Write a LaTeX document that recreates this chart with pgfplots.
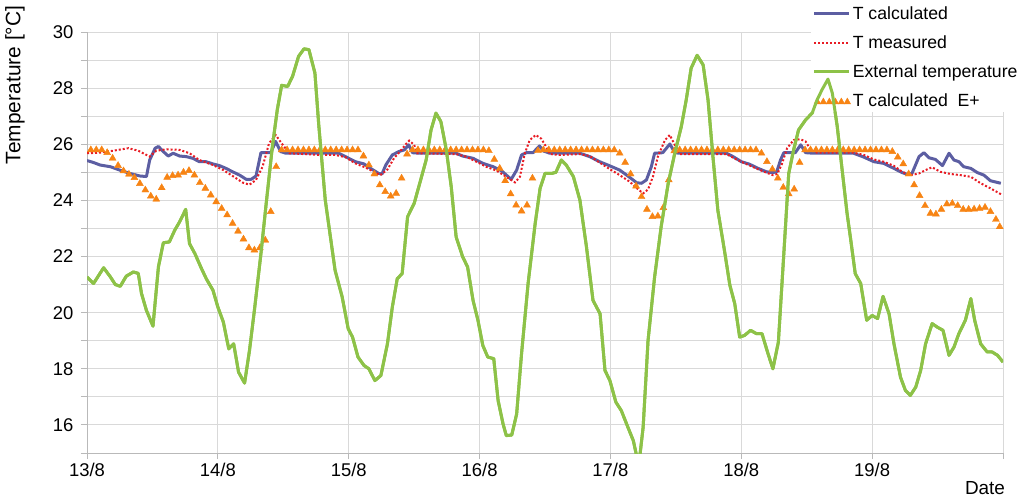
\documentclass[border=0pt]{standalone}
\usepackage{fontspec}
\setmainfont{Liberation Sans}
\usepackage{pgfplots}
\usepackage{pgfplotstable}
\pgfplotsset{compat=1.18}
\definecolor{tcalc}{RGB}{92,94,162}
\definecolor{tmeas}{RGB}{232,28,36}
\definecolor{extgreen}{RGB}{141,194,72}
\definecolor{eplus}{RGB}{247,132,20}
\definecolor{gridgray}{RGB}{217,217,217}
\definecolor{axisgray}{RGB}{185,185,185}

% hours from 13/8 00:00, temperature in degC
\pgfplotstableread{
h T
0 21.27
1.2 21.04
3.05 21.6
4.3 21.27
5.2 21.0
6.1 20.94
7.2 21.3
8.5 21.45
9.4 21.4
10.0 20.68
10.9 20.08
12.1 19.52
13.1 21.63
14.0 22.49
15.1 22.52
16.1 22.94
17.0 23.24
18.1 23.68
18.8 22.46
19.8 22.1
21.0 21.57
21.9 21.2
23.1 20.8
24.0 20.2
25.0 19.67
26.0 18.71
26.9 18.89
27.8 17.88
28.9 17.49
29.8 18.65
30.7 20.08
31.9 22.1
32.8 23.77
34.0 25.92
34.9 27.23
35.7 28.1
36.8 28.06
37.7 28.42
38.8 29.13
39.8 29.4
40.7 29.37
41.8 28.54
42.5 26.7
43.7 24.01
45.5 21.51
46.8 20.56
47.9 19.43
48.7 19.13
49.7 18.42
50.8 18.12
51.7 18.0
52.8 17.58
53.9 17.76
55.1 18.89
56.0 20.2
56.9 21.21
57.8 21.39
58.8 23.42
60.0 23.89
61.2 24.73
62.2 25.44
63.1 26.51
64.0 27.11
64.9 26.81
65.9 25.8
66.8 24.49
67.7 22.7
68.9 21.99
69.8 21.63
70.8 20.44
71.7 19.73
72.6 18.83
73.5 18.42
74.6 18.36
75.4 16.87
76.3 16.04
76.9 15.62
77.9 15.64
78.8 16.39
79.7 18.54
80.9 21.04
82.2 23.18
83.1 24.43
84.0 24.96
85.2 24.96
86.0 25.0
87.0 25.44
87.9 25.26
89.2 24.85
90.4 24.01
91.6 22.35
92.8 20.44
94.1 19.96
95.0 17.94
95.9 17.58
97.0 16.81
98.0 16.51
99.2 15.92
100.2 15.44
100.8 14.9
101.4 14.9
102.0 15.92
102.9 19.01
104.1 21.27
105.3 23.06
106.6 24.61
107.8 25.68
109.0 26.63
109.9 27.58
110.8 28.71
111.9 29.17
113.0 28.83
113.9 27.58
114.8 25.56
115.7 23.65
116.9 22.23
117.9 20.98
118.8 20.32
119.7 19.13
120.6 19.19
121.7 19.37
122.8 19.25
123.8 19.25
124.9 18.54
125.8 18.0
126.8 18.95
127.8 22.1
128.7 24.96
129.6 25.8
130.5 26.51
131.8 26.87
133.0 27.11
133.9 27.58
134.8 27.94
135.9 28.32
136.7 27.82
137.6 26.63
138.5 25.08
139.4 23.54
140.0 22.7
140.9 21.39
141.9 21.04
143.0 19.73
144.0 19.9
145.0 19.79
146.0 20.58
147.1 19.96
148.0 18.89
149.2 17.7
150.1 17.23
151.0 17.05
152.0 17.35
152.9 17.94
153.8 18.89
155.0 19.61
155.9 19.49
157.0 19.37
158.1 18.48
159.0 18.77
159.9 19.25
161.1 19.73
162.1 20.5
162.8 19.73
163.9 18.89
165.1 18.6
166.0 18.6
167.0 18.48
168.0 18.24
}\external

\pgfplotstableread{
h T
0.7 25.8
1.7 25.8
2.7 25.8
3.7 25.7
4.7 25.5
5.7 25.24
6.7 25.05
7.7 24.93
8.7 24.81
9.7 24.6
10.7 24.37
11.7 24.15
12.7 24.04
13.7 24.45
14.7 24.82
15.7 24.88
16.7 24.9
17.7 25.0
18.7 25.06
19.7 24.9
20.7 24.63
21.7 24.43
22.7 24.19
23.7 23.95
24.7 23.71
25.7 23.48
26.7 23.18
27.7 22.9
28.7 22.62
29.7 22.31
30.7 22.23
31.7 22.31
32.7 22.58
33.7 23.6
34.7 25.2
35.7 25.8
36.7 25.8
37.7 25.8
38.7 25.8
39.7 25.8
40.7 25.8
41.7 25.8
42.7 25.8
43.7 25.8
44.7 25.8
45.7 25.8
46.7 25.8
47.7 25.8
48.7 25.8
49.7 25.8
50.7 25.58
51.7 25.26
52.7 24.94
53.7 24.55
54.7 24.31
55.7 24.15
56.7 24.25
57.7 24.79
58.7 25.65
59.7 25.8
60.7 25.8
61.7 25.8
62.7 25.8
63.7 25.8
64.7 25.8
65.7 25.8
66.7 25.8
67.7 25.8
68.7 25.8
69.7 25.8
70.7 25.8
71.7 25.8
72.7 25.8
73.7 25.77
74.7 25.46
75.7 25.14
76.7 24.7
77.7 24.23
78.7 23.83
79.7 23.62
80.7 23.83
81.7 24.79
82.7 25.77
83.7 25.8
84.7 25.8
85.7 25.8
86.7 25.8
87.7 25.8
88.7 25.8
89.7 25.8
90.7 25.8
91.7 25.8
92.7 25.8
93.7 25.8
94.7 25.8
95.7 25.8
96.7 25.8
97.7 25.68
98.7 25.35
99.7 24.94
100.7 24.51
101.7 24.13
102.7 23.68
103.7 23.42
104.7 23.44
105.7 23.74
106.7 24.73
107.7 25.76
108.7 25.8
109.7 25.8
110.7 25.8
111.7 25.8
112.7 25.8
113.7 25.8
114.7 25.8
115.7 25.8
116.7 25.8
117.7 25.8
118.7 25.8
119.7 25.8
120.7 25.8
121.7 25.8
122.7 25.8
123.7 25.68
124.7 25.38
125.7 25.11
126.7 24.79
127.7 24.46
128.7 24.23
129.7 24.4
130.7 25.35
131.7 25.8
132.7 25.8
133.7 25.8
134.7 25.8
135.7 25.8
136.7 25.8
137.7 25.8
138.7 25.8
139.7 25.8
140.7 25.8
141.7 25.8
142.7 25.8
143.7 25.8
144.7 25.8
145.7 25.8
146.7 25.8
147.7 25.74
148.7 25.54
149.7 25.3
150.7 24.94
151.7 24.55
152.7 24.17
153.7 23.81
154.7 23.54
155.7 23.51
156.7 23.68
157.7 23.87
158.7 23.89
159.7 23.81
160.7 23.68
161.7 23.68
162.7 23.69
163.7 23.71
164.7 23.75
165.7 23.6
166.7 23.32
167.4 23.06
}\eplus

\pgfplotsset{frame/.style={
  at={(0,0)}, anchor=south west,
  scale only axis, width=916bp, height=421bp,
  xmin=0, xmax=168, ymin=15, ymax=30}}

\begin{document}
\begin{tikzpicture}
\useasboundingbox (-87bp,-51bp) rectangle (937bp,453bp);
\begin{axis}[
  frame,
  axis x line*=bottom, axis y line*=left,
  axis line style={draw=axisgray, line width=1bp},
  xtick={0,24,...,168},
  xticklabels={13/8,14/8,15/8,16/8,17/8,18/8,19/8,},
  ytick={16,18,...,30},
  minor ytick={15,17,...,29},
  grid=both,
  major grid style={draw=gridgray, line width=0.9bp},
  minor grid style={draw=gridgray, line width=0.9bp},
  tick align=outside,
  major tick length=6bp, minor tick length=6bp,
  every tick/.style={draw=axisgray, line width=0.9bp},
  minor tick style={draw=axisgray, line width=0.9bp},
  tick label style={font=\fontsize{18.5}{22}\selectfont},
  /pgf/number format/assume math mode=true,
  yticklabel style={xshift=-4bp},
  xticklabel style={yshift=-1bp},
  legend cell align=left,
  legend image code/.code={\draw[#1] (0bp,0bp) -- (35bp,0bp);},
  legend style={at={(0.79,1.071)}, anchor=north west, draw=none, fill=white,
    font=\fontsize{17.7}{21}\selectfont, row sep=11bp, inner sep=2bp,
    /tikz/every even column/.append style={column sep=2bp}},
]
\addplot[color=tcalc, line width=3bp, line join=round] coordinates {
(0,25.42) (1.2,25.35) (2.4,25.26) (4.3,25.2) (6.0,25.08) (7.9,24.96)
(9.7,24.87) (10.9,24.85) (11.5,25.44) (12.5,25.86) (13.1,25.92) (14.0,25.74)
(14.9,25.58) (15.8,25.68) (17.0,25.58) (18.2,25.56) (19.4,25.5) (20.6,25.38)
(21.8,25.38) (23.1,25.3) (24.3,25.24) (25.5,25.14) (26.7,25.02) (28.0,24.9)
(29.2,24.75) (30.1,24.75) (31.0,24.87) (31.9,25.7) (33.7,25.7) (34.6,26.1)
(35.5,25.74) (36.5,25.68) (46.2,25.68) (47.4,25.56) (49.2,25.38) (50.8,25.3)
(52.0,25.14) (53.5,24.96) (54.1,24.94) (54.8,25.26) (56.0,25.62) (57.2,25.74)
(58.2,25.8) (59.0,25.98) (59.7,25.7) (60.9,25.68) (67.7,25.68) (68.9,25.58)
(70.8,25.5) (72.6,25.32) (74.5,25.2) (76.0,25.06) (77.8,24.75) (78.8,25.08)
(79.7,25.62) (80.6,25.7) (81.8,25.7) (83.0,25.94) (83.7,25.76) (84.9,25.68)
(90.4,25.68) (92.2,25.56) (94.0,25.38) (95.9,25.23) (97.7,25.08) (99.2,24.87)
(100.8,24.63) (101.7,24.61) (102.6,24.73) (103.5,25.2) (104.1,25.68) (105.6,25.7)
(106.9,26.01) (107.8,25.7) (108.7,25.68) (117.3,25.68) (118.5,25.56) (120.0,25.38)
(121.5,25.29) (123.1,25.14) (124.6,25.02) (125.8,24.99) (126.5,25.02) (127.2,25.44)
(127.8,25.7) (129.9,25.7) (130.9,25.98) (131.8,25.7) (133.3,25.68) (140.6,25.68)
(142.5,25.54) (144.3,25.38) (146.1,25.32) (148.0,25.14) (149.5,24.99) (150.4,24.93)
(151.3,24.96) (152.6,25.56) (153.5,25.7) (154.4,25.52) (155.6,25.46) (156.9,25.24)
(158.1,25.68) (159.0,25.44) (159.9,25.38) (160.8,25.2) (162.1,25.14) (163.3,24.99)
(164.5,24.9) (165.7,24.7) (167.6,24.61)
};
\addlegendentry{T calculated}
\addplot[color=tmeas, line width=2bp, dash pattern=on 2bp off 2bp] coordinates {
(0,25.68) (2.4,25.7) (4.8,25.77) (7.6,25.86) (9.4,25.77) (11.5,25.56)
(12.7,25.77) (14.6,25.82) (17.0,25.8) (18.8,25.68) (20.6,25.44) (23.1,25.26)
(25.0,25.08) (26.7,24.87) (28.6,24.63) (29.8,24.56) (31.0,24.73) (32.2,25.2)
(33.4,26.04) (34.6,26.33) (35.9,25.98) (37.1,25.68) (42.5,25.62) (45.5,25.62)
(47.4,25.54) (49.2,25.32) (51.1,25.17) (52.6,25.02) (53.8,24.9) (55.1,25.1)
(56.3,25.5) (57.5,25.76) (58.5,26.01) (59.1,26.13) (60.0,25.98) (60.6,25.68)
(67.7,25.65) (69.5,25.56) (71.4,25.38) (73.2,25.2) (75.1,25.06) (76.9,24.84)
(78.5,24.64) (79.4,24.84) (80.3,25.68) (81.2,26.15) (82.3,26.33) (83.3,26.2)
(84.0,25.98) (84.9,25.65) (86.7,25.62) (90.4,25.65) (92.2,25.58) (94.0,25.35)
(95.9,25.11) (97.7,24.9) (99.5,24.67) (101.1,24.39) (102.0,24.25) (102.9,24.39)
(103.8,24.85) (104.7,25.56) (106.0,26.15) (106.9,26.33) (107.8,25.98) (108.7,25.65)
(117.3,25.65) (119.1,25.46) (120.9,25.3) (122.7,25.14) (124.6,24.99) (125.8,24.9)
(126.6,24.94) (127.5,25.32) (128.4,25.86) (129.6,26.15) (130.8,26.18) (131.8,26.1)
(132.7,25.8) (133.9,25.7) (140.6,25.7) (142.5,25.62) (144.3,25.46) (146.1,25.38)
(148.0,25.23) (149.5,25.02) (151.0,24.9) (152.6,24.96) (153.8,25.08) (155.0,25.18)
(156.5,25.02) (158.4,24.94) (160.2,24.9) (162.1,24.84) (163.9,24.61) (165.7,24.43)
(167.9,24.19)
};
\addlegendentry{T measured}
\addplot[color=extgreen, line width=3bp, line join=round] table[x=h, y=T] {\external};
\addlegendentry{External temperature}
\addplot[only marks, mark=triangle*, mark size=4bp, color=eplus,
  legend image code/.code={
    \foreach \xx in {3bp,9bp,15bp,21bp,27bp,33bp}{
      \fill[eplus, xshift=\xx] (-3.2bp,-2.6bp) -- (3.2bp,-2.6bp) -- (0bp,3.2bp) -- cycle;}}]
  table[x=h, y=T] {\eplus};
\addlegendentry{T calculated~~E+}
\end{axis}
% the external temperature line is drawn again on top, where it crosses the legend
\begin{axis}[frame, hide axis]
\addplot[color=extgreen, line width=3bp, line join=round] table[x=h, y=T] {\external};
\end{axis}
\node[rotate=90, font=\fontsize{21}{25}\selectfont] at (-72bp,368bp) {Temperature [°C]};
\node[font=\fontsize{19}{23}\selectfont] at (898bp,-35bp) {Date};
\end{tikzpicture}
\end{document}
